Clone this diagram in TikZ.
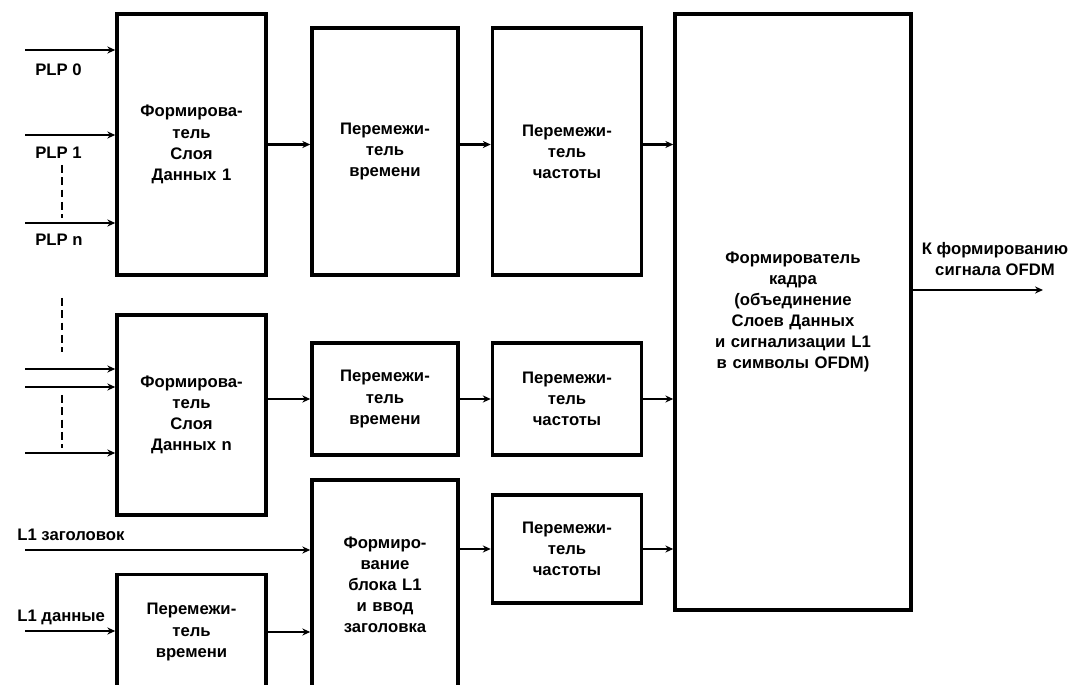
\documentclass[tikz,border=0pt]{standalone}
\usepackage{fontspec}
\setmainfont{Liberation Sans}
\usetikzlibrary{arrows.meta}
\tikzstyle{block} = [rectangle, draw=black, line width=2pt, text centered, font=\fontsize{9.5}{12}\selectfont\bfseries]
\tikzstyle{narrow} = [block, minimum width=2.92cm, text width=2.6cm]
\tikzstyle{wide} = [block, minimum width=2.98cm, text width=2.6cm]
\tikzstyle{frame} = [block, minimum width=4.72cm, minimum height=11.92cm, text width=4.4cm]
\tikzstyle{label} = [font=\fontsize{9.5}{12}\selectfont\bfseries, inner sep=0pt]
\tikzstyle{arrow} = [line width=1.5pt,->,>={Stealth[length=4.5pt,width=4pt]}]
\tikzstyle{dots} = [line width=1.2pt, dash pattern=on 4.5pt off 2.5pt]

\begin{document}
\begin{tikzpicture}[x=0.02cm, y=-0.02cm]
	\useasboundingbox (0,0) rectangle (1079,685);

	\node (dl1) [wide, minimum height=5.22cm] at (191.5,144.5) {Формирова-\\тель\\Слоя\\Данных 1\par};

	\node (ti1) [narrow, minimum height=4.94cm] at (385,151.5) {Перемежи-\\тель\\времени\par};

	\node (fi1) [wide, minimum height=4.94cm] at (567,151.5) {Перемежи-\\тель\\частоты\par};

	\node (frm) [frame] at (793,312) {Формирователь\\кадра\\(объединение\\Слоев Данных\\и сигнализации L1\\в символы OFDM)\par};

	\node (dln) [wide, minimum height=4cm] at (191.5,415) {Формирова-\\тель\\Слоя\\Данных n\par};

	\node (ti2) [narrow, minimum height=2.24cm] at (385,399) {Перемежи-\\тель\\времени\par};

	\node (fi2) [wide, minimum height=2.24cm] at (567,399) {Перемежи-\\тель\\частоты\par};

	\node (l1b) [narrow, minimum height=4.2cm] at (385,585) {Формиро-\\вание\\блока L1\\и ввод\\заголовка\par};

	\node (fi3) [wide, minimum height=2.16cm] at (567,549) {Перемежи-\\тель\\частоты\par};

	\node (ti3) [wide, minimum height=2.3cm] at (191.5,632) {Перемежи-\\тель\\времени\par};

	% inputs
	\coordinate (in0) at (25,50);
	\coordinate (in1) at (25,135);
	\coordinate (inn) at (25,223);
	\coordinate (ina) at (25,369);
	\coordinate (inb) at (25,387);
	\coordinate (inc) at (25,453);
	\coordinate (hdr) at (25,550);
	\coordinate (dat) at (25,631);
	\coordinate (ofdm) at (1043,290);

	\node (lplp0) [label, anchor=west] at (35,70) {PLP 0};
	\node (lplp1) [label, anchor=west] at (35,153) {PLP 1};
	\node (lplpn) [label, anchor=west] at (35,240) {PLP n};
	\node (lhdr) [label, anchor=west] at (17,535) {L1 заголовок};
	\node (ldat) [label, anchor=west] at (17,617) {L1 данные};
	\node (lout) [label, align=center] at (995,259) {К формированию\\сигнала OFDM};

	\draw[dots] (62,165) -- (62,218);
	\draw[dots] (62,298) -- (62,352);
	\draw[dots] (62,395) -- (62,448);

	\draw[arrow] (in0) -- (in0 -| dl1.west);
	\draw[arrow] (in1) -- (in1 -| dl1.west);
	\draw[arrow] (inn) -- (inn -| dl1.west);
	\draw[arrow] (ina) -- (ina -| dln.west);
	\draw[arrow] (inb) -- (inb -| dln.west);
	\draw[arrow] (inc) -- (inc -| dln.west);
	\draw[arrow] (hdr) -- (hdr -| l1b.west);
	\draw[arrow] (dat) -- (dat -| ti3.west);

	\draw[arrow] (dl1.east) -- (dl1.east -| ti1.west);
	\draw[arrow] (dl1.east -| ti1.east) -- (dl1.east -| fi1.west);
	\draw[arrow] (dl1.east -| fi1.east) -- (dl1.east -| frm.west);
	\draw[arrow] (ti2.west -| dln.east) -- (ti2.west);
	\draw[arrow] (ti2.east) -- (fi2.west);
	\draw[arrow] (fi2.east) -- (fi2.east -| frm.west);
	\draw[arrow] (fi3.west -| l1b.east) -- (fi3.west);
	\draw[arrow] (fi3.east) -- (fi3.east -| frm.west);
	\draw[arrow] (ti3.east) -- (ti3.east -| l1b.west);
	\draw[arrow] (ofdm -| frm.east) -- (ofdm);

\end{tikzpicture}
\end{document}
